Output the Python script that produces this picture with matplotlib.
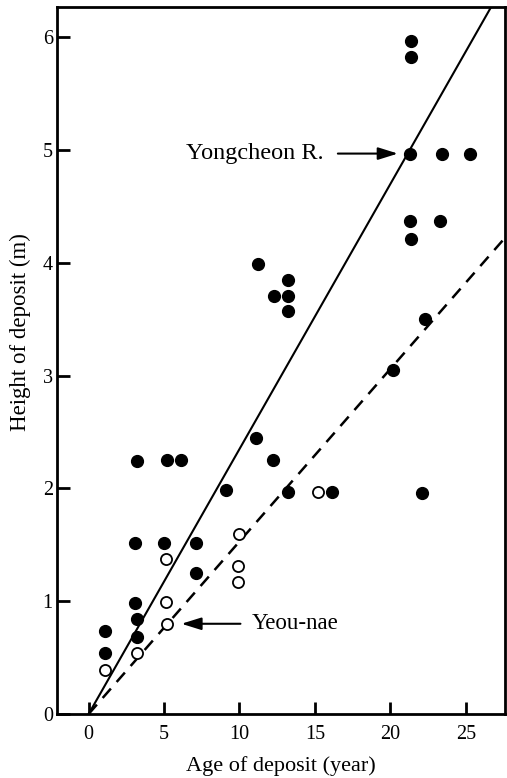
import numpy as np
import matplotlib.pyplot as plt
from matplotlib import rcParams

rcParams['font.family'] = 'serif'
rcParams['font.serif'] = ['Liberation Serif']
rcParams['font.size'] = 14

# Yongcheon R. (filled) and Yeou-nae (open) observations
yong_age = [1.1, 1.1, 3.2, 3.1, 3.1, 3.2, 3.2, 5.2, 6.1, 5.0, 7.1, 7.1, 9.1, 11.1,
            12.2, 13.2, 16.1, 22.1, 21.4, 21.4, 21.3, 23.4, 25.3, 21.3, 23.3, 21.4,
            11.2, 13.2, 12.3, 13.2, 13.2, 22.3, 20.2]
yong_height = [0.74, 0.54, 2.24, 1.52, 0.98, 0.84, 0.68, 2.25, 2.25, 1.52, 1.52, 1.25, 1.99, 2.45,
               2.25, 1.97, 1.97, 1.96, 5.97, 5.83, 4.97, 4.97, 4.97, 4.37, 4.37, 4.21,
               3.99, 3.85, 3.71, 3.71, 3.57, 3.50, 3.05]

yeou_age = [1.1, 3.2, 5.1, 5.1, 5.2, 10.0, 9.9, 9.9, 15.2]
yeou_height = [0.39, 0.54, 1.37, 0.99, 0.80, 1.60, 1.31, 1.17, 1.97]

# fitted rates (m/year)
yong_slope = 0.235
yeou_slope = 0.153

fig = plt.figure(figsize=(5.07, 7.78), dpi=100)
ax = fig.add_axes([0.1124, 0.0823, 0.8836, 0.9087])

xfit = np.array([0, 28])
ax.plot(xfit, yong_slope * xfit, 'k-', lw=1.5)
ax.plot(xfit, yeou_slope * xfit, 'k--', lw=1.8, dashes=(5, 3.5))

ax.plot(yong_age, yong_height, 'o', color='k', markersize=8.5, zorder=3)
ax.plot(yeou_age, yeou_height, 'o', mfc='white', mec='k', mew=1.3, markersize=8, zorder=3)

arrow = dict(arrowstyle='-|>,head_length=0.8,head_width=0.25', color='k', lw=1.5,
             mutation_scale=15, shrinkA=8, shrinkB=0)
ax.annotate('Yongcheon R.', xy=(20.5, 4.97), xytext=(15.6, 4.97),
            ha='right', va='center', fontsize=17.5, arrowprops=arrow)
ax.annotate('Yeou-nae', xy=(6.15, 0.8), xytext=(10.8, 0.8),
            ha='left', va='center', fontsize=16.5,
            arrowprops=dict(arrow, shrinkA=6))

ax.set_xlim(-2.1, 27.6)
ax.set_ylim(0, 6.27)
ax.set_xticks([0, 5, 10, 15, 20, 25])
ax.set_yticks([0, 1, 2, 3, 4, 5, 6])
ax.tick_params(direction='in', length=9, width=2, labelsize=14.5)
ax.tick_params(axis='y', pad=3)
ax.tick_params(axis='x', pad=8)
for s in ax.spines.values():
    s.set_linewidth(2)

ax.set_xlabel('Age of deposit (year)', fontsize=16, labelpad=8.5)
ax.set_ylabel('Height of deposit (m)', fontsize=16.5)
ax.yaxis.set_label_coords(-0.058, 0.54)

plt.savefig('out.png', dpi=100)
